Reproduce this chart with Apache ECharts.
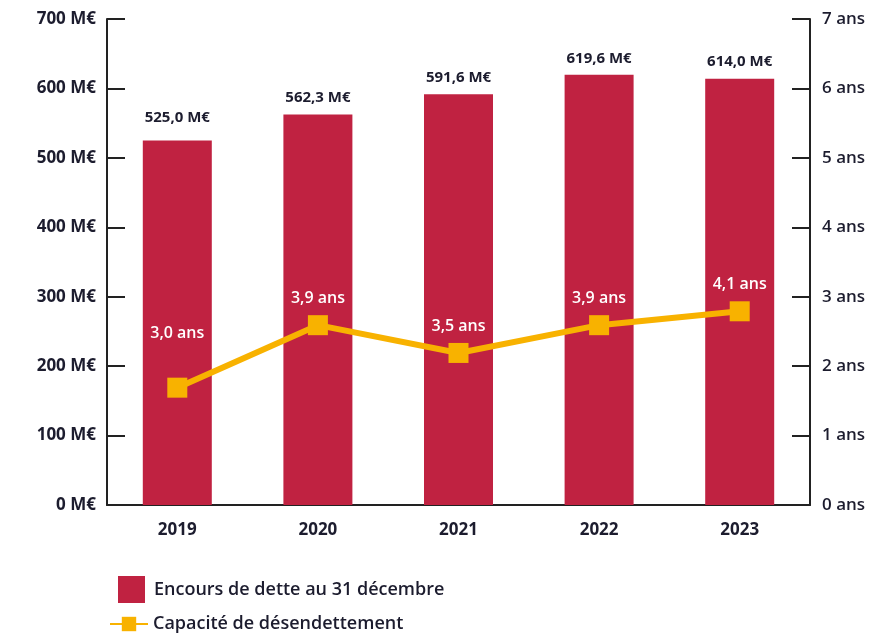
<!DOCTYPE html>
<html>
<head>
<meta charset="utf-8">
<script src="https://cdn.jsdelivr.net/npm/echarts@6/dist/echarts.min.js"></script>
<style>
  html, body { margin: 0; padding: 0; background: #fff; }
  #chart { width: 890px; height: 633px; }
</style>
</head>
<body>
<div id="chart"></div>
<script>
// Encours de dette et capacité de désendettement 2019-2023
const annees = ['2019', '2020', '2021', '2022', '2023'];
const encours = [525.0, 562.3, 591.6, 619.6, 614.0];
const capacite = [3.0, 3.9, 3.5, 3.9, 4.1];
const nomEncours = 'Encours de dette au 31 décembre';
const nomCapacite = 'Capacité de désendettement';

(() => {
  const box = document.getElementById('chart');
  const font = '"Open Sans", "Liberation Sans", sans-serif';
  const ink = '#1c1c2e';
  const red = '#c02241';
  const amber = '#f8b200';
  const fr = (v) => v.toFixed(1).replace('.', ',');

  const chart = echarts.init(box, null, { renderer: 'canvas' });
  chart.setOption({
    backgroundColor: '#fff',
    animation: false,
    textStyle: { fontFamily: font },
    grid: { left: 107, right: 80, top: 19, bottom: 128 },
    legend: [
      {
        data: [nomEncours],
        left: 113, top: 571,
        itemWidth: 27, itemHeight: 27,
        icon: 'rect',
        textStyle: { color: ink, fontSize: 18, fontWeight: 600, fontFamily: font, padding: [0, 0, 0, 4] },
      },
      {
        data: [nomCapacite],
        left: 104, top: 610,
        itemWidth: 38, itemHeight: 18,
        textStyle: { color: ink, fontSize: 18, fontWeight: 600, fontFamily: font, padding: [0, 0, 0, 0] },
      },
    ],
    xAxis: {
      type: 'category',
      data: annees,
      axisLine: { lineStyle: { color: '#222', width: 2 } },
      axisTick: { show: false },
      axisLabel: { color: ink, fontSize: 17, fontWeight: 700, margin: 17 },
    },
    yAxis: [
      {
        type: 'value', min: 0, max: 700, interval: 100, position: 'left',
        axisLine: { show: true, lineStyle: { color: '#222', width: 2 } },
        axisTick: { show: true, inside: true, length: 18, lineStyle: { color: '#222', width: 2 } },
        axisLabel: { color: ink, fontSize: 17, fontWeight: 700, margin: 11, formatter: '{value} M€' },
        splitLine: { show: false },
      },
      {
        type: 'value', min: 0, max: 7, interval: 1, position: 'right',
        axisLine: { show: true, lineStyle: { color: '#222', width: 2 } },
        axisTick: { show: true, inside: true, length: 18, lineStyle: { color: '#222', width: 2 } },
        axisLabel: { color: ink, fontSize: 17, fontWeight: 600, margin: 12, formatter: '{value} ans' },
        splitLine: { show: false },
      },
      {
        // échelle de la courbe telle que tracée dans la source (décalée)
        type: 'value', min: 1.31, max: 8.31, show: false, position: 'right',
        splitLine: { show: false },
      },
    ],
    series: [
      {
        name: nomEncours,
        type: 'bar',
        data: encours.map((v, i) => (i === 0 ? { value: v, label: { distance: 15 } } : v)),
        barWidth: 69,
        itemStyle: { color: red },
        label: {
          show: true, position: 'top', distance: 9,
          color: ink, fontSize: 15, fontWeight: 700,
          formatter: (p) => fr(p.value) + ' M€',
        },
      },
      {
        name: nomCapacite,
        type: 'line',
        yAxisIndex: 2,
        data: capacite.map((v, i) => (i === 0 ? { value: v, label: { distance: 36 } } : v)),
        symbol: 'rect',
        symbolSize: 20,
        lineStyle: { color: amber, width: 6 },
        itemStyle: { color: amber },
        z: 5,
        label: {
          show: true, position: 'top', distance: 9,
          color: '#fff', fontSize: 16, fontWeight: 600,
          formatter: (p) => fr(p.value) + ' ans',
        },
      },
    ],
  });

  window.addEventListener('resize', () => chart.resize());
})();
</script>
</body>
</html>
